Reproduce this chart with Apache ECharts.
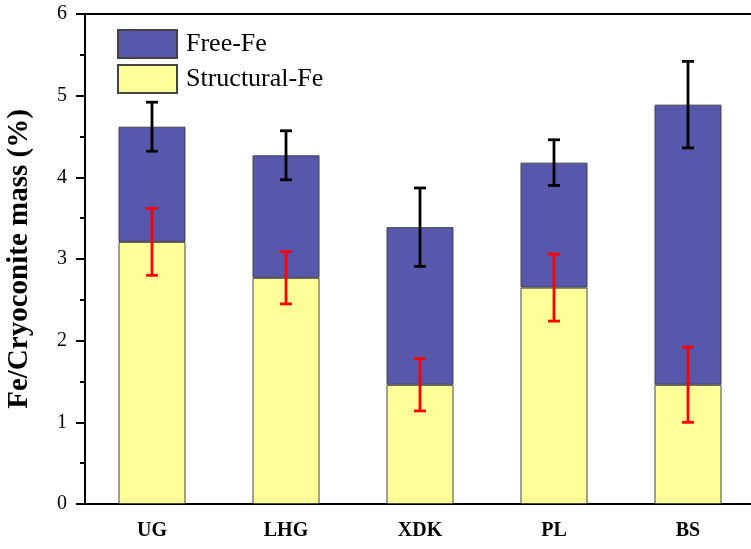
<!DOCTYPE html>
<html>
<head>
<meta charset="utf-8">
<script src="https://cdn.jsdelivr.net/npm/echarts@6/dist/echarts.min.js"></script>
<style>
html,body{margin:0;padding:0;background:#fff;}
#chart{width:751px;height:549px;}
</style>
</head>
<body>
<div id="chart"></div>
<script>
var categories = ['UG', 'LHG', 'XDK', 'PL', 'BS'];
var structuralFe = [3.21, 2.77, 1.46, 2.65, 1.46];
var freeFe = [1.41, 1.50, 1.93, 1.53, 3.43];
var structuralErr = [0.41, 0.32, 0.32, 0.41, 0.46];
var totalErr = [0.30, 0.30, 0.48, 0.28, 0.53];
var yTicks = [0, 1, 2, 3, 4, 5, 6];

var totals = structuralFe.map(function (v, i) { return v + freeFe[i]; });
var serif = '"Liberation Serif", "DejaVu Serif", serif';

function errData(centers, errs) {
  return centers.map(function (c, i) { return [i, c - errs[i], c + errs[i]]; });
}
function errRender(color) {
  return function (params, api) {
    var x = api.value(0);
    var lo = api.coord([x, api.value(1)]);
    var hi = api.coord([x, api.value(2)]);
    var hw = 6;
    var st = { stroke: color, lineWidth: 2.8 };
    return {
      type: 'group',
      children: [
        { type: 'line', shape: { x1: hi[0], y1: hi[1], x2: lo[0], y2: lo[1] }, style: st },
        { type: 'line', shape: { x1: hi[0] - hw, y1: hi[1], x2: hi[0] + hw, y2: hi[1] }, style: st },
        { type: 'line', shape: { x1: lo[0] - hw, y1: lo[1], x2: lo[0] + hw, y2: lo[1] }, style: st }
      ]
    };
  };
}

var chart = echarts.init(document.getElementById('chart'), null, { renderer: 'canvas' });
chart.setOption({
  animation: false,
  backgroundColor: '#fff',
  textStyle: { fontFamily: serif },
  grid: { left: 85, right: -4, top: 14, bottom: 45, containLabel: false, outerBoundsMode: 'none' },
  legend: {
    orient: 'vertical', left: 117, top: 29, padding: 0, itemWidth: 59, itemHeight: 28, itemGap: 5,
    icon: 'rect',
    data: ['Free-Fe', 'Structural-Fe'],
    textStyle: { fontFamily: serif, fontSize: 26, color: '#000', padding: [0, 0, 0, 4] },
    selectedMode: false
  },
  xAxis: [{
    type: 'category', data: categories, position: 'bottom',
    axisLine: { lineStyle: { color: '#000', width: 2 } },
    axisTick: { alignWithLabel: true, length: 9, lineStyle: { color: '#000', width: 2 } },
    axisLabel: { fontFamily: serif, fontSize: 20, fontWeight: 'bold', color: '#000', margin: 17 }
  }, {
    type: 'category', data: categories, position: 'bottom', gridIndex: 0,
    axisLine: { show: false },
    axisTick: { length: 5, lineStyle: { color: '#000', width: 2 } },
    axisLabel: { show: false }
  }, {
    type: 'category', data: categories, position: 'top',
    axisLine: { lineStyle: { color: '#000', width: 2 } },
    axisTick: { show: false }, axisLabel: { show: false }
  }],
  yAxis: {
    type: 'value', min: 0, max: 6, interval: 1,
    name: 'Fe/Cryoconite mass (%)', nameLocation: 'middle', nameGap: 51,
    nameTextStyle: { fontFamily: serif, fontSize: 29, fontWeight: 'bold', color: '#000' },
    axisLine: { show: true, lineStyle: { color: '#000', width: 2 } },
    axisTick: { show: true, length: 9, lineStyle: { color: '#000', width: 2 } },
    minorTick: { show: true, splitNumber: 2, length: 5, lineStyle: { color: '#000', width: 2 } },
    splitLine: { show: false },
    axisLabel: {
      fontFamily: serif, fontSize: 20, color: '#000', margin: 18,
      formatter: function (v) { return yTicks.indexOf(v) >= 0 ? String(v) : ''; }
    }
  },
  series: [{
    name: 'Structural-Fe', type: 'bar', stack: 'fe', data: structuralFe, barWidth: '50%',
    itemStyle: { color: '#FFFF99', borderColor: '#444', borderWidth: 1 }
  }, {
    name: 'Free-Fe', type: 'bar', stack: 'fe', data: freeFe, barWidth: '50%',
    itemStyle: { color: '#5757AB', borderColor: '#444', borderWidth: 1 }
  }, {
    name: 'errStruct', type: 'custom', data: errData(structuralFe, structuralErr),
    renderItem: errRender('#FF0000'), z: 5, encode: { x: 0, y: [1, 2] }
  }, {
    name: 'errTotal', type: 'custom', data: errData(totals, totalErr),
    renderItem: errRender('#000000'), z: 5, encode: { x: 0, y: [1, 2] }
  }]
});
</script>
</body>
</html>
